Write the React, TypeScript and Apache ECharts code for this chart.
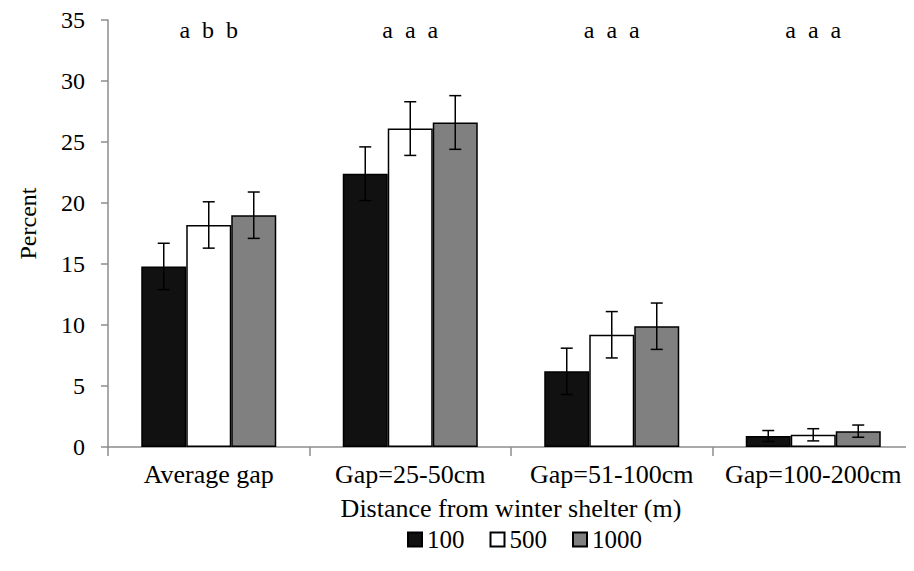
import React, { useEffect, useRef } from "react";
import * as echarts from "echarts";

const categories = ["Average gap", "Gap=25-50cm", "Gap=51-100cm", "Gap=100-200cm"];
const seriesNames = ["100", "500", "1000"];
const values100 = [14.8, 22.4, 6.2, 0.9];
const values500 = [18.2, 26.1, 9.2, 1.0];
const values1000 = [19.0, 26.6, 9.9, 1.3];
const err100 = [1.9, 2.2, 1.9, 0.45];
const err500 = [1.9, 2.2, 1.9, 0.5];
const err1000 = [1.9, 2.2, 1.9, 0.5];
const sigLetters = [
  ["a", "b", "b"],
  ["a", "a", "a"],
  ["a", "a", "a"],
  ["a", "a", "a"],
];
const letterLevel = 34.2;

const colors = ["#111111", "#ffffff", "#808080"];
const FONT = "Liberation Serif";
const CAT_GAP = 0.33;

export default function App() {
  const ref = useRef<HTMLDivElement>(null);
  useEffect(() => {
    const chart = echarts.init(ref.current!, undefined, { renderer: "svg" });
    const allValues = [values100, values500, values1000];
    const allErr = [err100, err500, err1000];

    const barSeries = seriesNames.map((name, i) => ({
      name,
      type: "bar",
      data: allValues[i],
      barGap: "0%",
      barCategoryGap: CAT_GAP * 100 + "%",
      itemStyle: { color: colors[i], borderColor: "#000", borderWidth: 1.5 },
      z: 2,
    }));

    const errData: number[][] = [];
    allValues.forEach((vals, s) => {
      vals.forEach((v, c) => {
        errData.push([c, v - allErr[s][c], v + allErr[s][c], s]);
      });
    });

    const errSeries = {
      type: "custom",
      name: "err",
      data: errData,
      z: 5,
      renderItem: (params: any, api: any) => {
        const c = api.value(0);
        const lo = api.value(1);
        const hi = api.value(2);
        const s = api.value(3);
        const bandW = api.size([1, 0])[0];
        const barW = (bandW * (1 - CAT_GAP)) / 3;
        const pLo = api.coord([c, lo]);
        const pHi = api.coord([c, hi]);
        const x = pLo[0] + (s - 1) * barW;
        const cap = 6;
        const style = { stroke: "#000", lineWidth: 1.5 };
        return {
          type: "group",
          children: [
            { type: "line", shape: { x1: x, y1: pLo[1], x2: x, y2: pHi[1] }, style },
            { type: "line", shape: { x1: x - cap, y1: pLo[1], x2: x + cap, y2: pLo[1] }, style },
            { type: "line", shape: { x1: x - cap, y1: pHi[1], x2: x + cap, y2: pHi[1] }, style },
          ],
        };
      },
    };

    const letterSeries = {
      type: "custom",
      name: "letters",
      data: sigLetters.map((l, c) => [c, letterLevel]),
      z: 6,
      renderItem: (params: any, api: any) => {
        const c = api.value(0);
        const p = api.coord([c, api.value(1)]);
        return {
          type: "text",
          x: p[0],
          y: p[1],
          style: {
            text: sigLetters[c].join("  "),
            fontFamily: FONT,
            fontSize: 24,
            fill: "#000",
            align: "center",
            verticalAlign: "middle",
          },
        };
      },
    };

    chart.setOption({
      animation: false,
      textStyle: { fontFamily: FONT },
      grid: { left: 92, right: 0, top: 9, bottom: 124 },
      legend: {
        data: seriesNames,
        left: 394,
        top: 514,
        itemWidth: 14,
        itemHeight: 14,
        itemGap: 25,
        icon: "rect",
        textStyle: { fontFamily: FONT, fontSize: 25, color: "#000" },
      },
      xAxis: {
        type: "category",
        data: categories,
        name: "Distance from winter shelter (m)",
        nameLocation: "middle",
        nameGap: 48,
        nameTextStyle: { fontFamily: FONT, fontSize: 26, color: "#000" },
        axisLine: { lineStyle: { color: "#8c8c8c", width: 1.5 } },
        axisTick: { show: true, length: 9, lineStyle: { color: "#8c8c8c", width: 1.5 } },
        axisLabel: { interval: 0, fontFamily: FONT, fontSize: 26, color: "#000", margin: 14 },
      },
      yAxis: {
        type: "value",
        min: 0,
        max: 35,
        interval: 5,
        name: "Percent",
        nameLocation: "middle",
        nameGap: 68,
        nameTextStyle: { fontFamily: FONT, fontSize: 24, color: "#000", padding: [0, 0, 0, 20] },
        axisLine: { show: true, lineStyle: { color: "#8c8c8c", width: 1.5 } },
        axisTick: { show: true, length: 7, lineStyle: { color: "#8c8c8c", width: 1.5 } },
        splitLine: { show: false },
        axisLabel: { fontFamily: FONT, fontSize: 24, color: "#000", margin: 23 },
      },
      series: [...barSeries, errSeries, letterSeries],
    });
    return () => chart.dispose();
  }, []);
  return (
    <>
      <style>{`#root svg text { font-family: "Liberation Serif", "Times New Roman", serif !important; }`}</style>
      <div ref={ref} style={{ width: 906, height: 563 }} />
    </>
  );
}
